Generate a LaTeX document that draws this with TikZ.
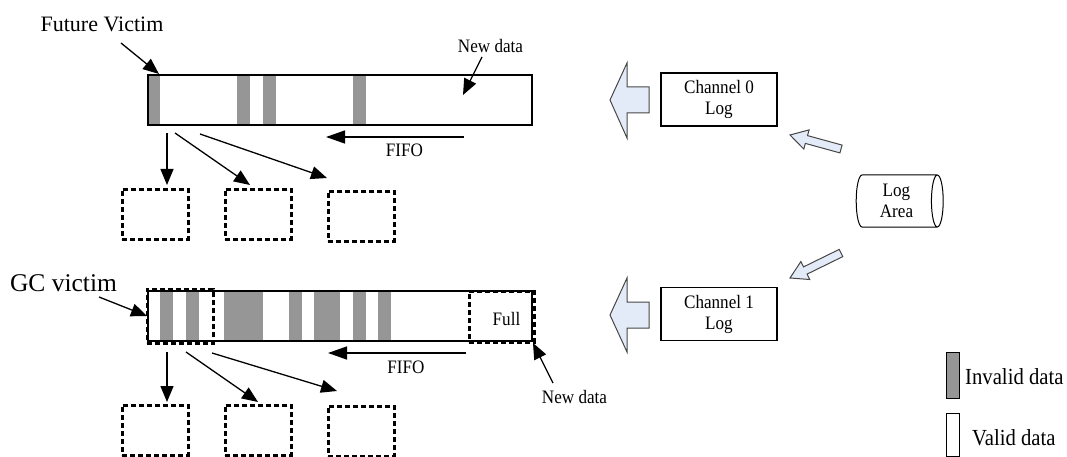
\documentclass[tikz,border=0pt]{standalone}
\usepackage{fontspec}
\setmainfont{Liberation Serif}
\newfontfamily\narrowserif[FakeStretch=0.9]{Liberation Serif}
\usetikzlibrary{arrows.meta,shapes.geometric}
\definecolor{invalidgray}{RGB}{150,150,150}
\definecolor{blockfill}{RGB}{228,235,248}
\definecolor{blockline}{RGB}{70,70,70}

\begin{document}
\begin{tikzpicture}[x=1pt,y=-1pt,
  lbl/.style={inner sep=0pt, font=\narrowserif\fontsize{19}{21}\selectfont},
  leglbl/.style={inner sep=0pt, font=\narrowserif\fontsize{23}{25}\selectfont},
  biglbl/.style={inner sep=0pt, font=\fontsize{22}{24}\selectfont},
  queue/.style={draw, line width=1.8, minimum width=384, minimum height=50, inner sep=0pt, anchor=north west},
  stripe/.style={fill=invalidgray},
  slot/.style={draw, line width=2.9, dash pattern=on 5pt off 3pt, minimum width=66, minimum height=50, inner sep=0pt, anchor=north west},
  ptr/.style={line width=1.3, -{Triangle[length=16pt,width=13pt]}},
  fifo/.style={line width=1.4, -{Triangle[length=19pt,width=13pt]}},
  chbox/.style={draw, line width=1.3, minimum width=116, minimum height=53, align=center, lbl},
  block/.style={draw=blockline, fill=blockfill, line width=1, line join=miter},
  legbox/.style={draw, line width=1.3, minimum width=13, inner sep=0pt, anchor=north west}
]
\useasboundingbox (0,0) rectangle (1067,457);

% ---------- channel 0 queue ----------
\fill[stripe] (147,74) rectangle (160,124);
\fill[stripe] (237,74) rectangle (250,124);
\fill[stripe] (263,74) rectangle (276,124);
\fill[stripe] (353,74) rectangle (366,124);
\node[queue] (bar0) at (147,74) {};

\node[biglbl, anchor=base] (fv) at (102,32) {Future Victim};
\coordinate (fvtail) at (121,43);
\coordinate (fvtip) at (159,74);
\draw[ptr] (fvtail) -- (fvtip);

\node[lbl, anchor=base] (nd0) at (490.5,53) {New data};
\coordinate (nd0tail) at (482,57);
\coordinate (nd0tip) at (463,95);
\draw[ptr] (nd0tail) -- (nd0tip);

\coordinate (fifo0start) at (464,137);
\coordinate (fifo0end) at (326,137);
\draw[fifo] (fifo0start) -- (fifo0end);
\node[lbl, anchor=base] (fifo0) at (404.5,157) {FIFO};

\node[slot] (s01) at (121,188) {};
\node[slot] (s02) at (224,188) {};
\node[slot] (s03) at (327,190) {};
\coordinate (d01a) at (167,133);
\coordinate (d01b) at (167,185);
\coordinate (d02a) at (175,133);
\coordinate (d02b) at (250,185);
\coordinate (d03a) at (200,134);
\coordinate (d03b) at (327,178);
\draw[ptr] (d01a) -- (d01b);
\draw[ptr] (d02a) -- (d02b);
\draw[ptr] (d03a) -- (d03b);

% ---------- channel 1 queue ----------
\fill[stripe] (160,290) rectangle (173,340);
\fill[stripe] (186,290) rectangle (199,340);
\fill[stripe] (224,290) rectangle (263,340);
\fill[stripe] (289,290) rectangle (302,340);
\fill[stripe] (314,290) rectangle (340,340);
\fill[stripe] (353,290) rectangle (366,340);
\fill[stripe] (378,290) rectangle (391,340);
\node[queue] (bar1) at (147,290) {};
\node[slot, minimum width=66, minimum height=54] (gcbox) at (146,288) {};
\node[slot, minimum width=65, minimum height=51] (fullbox) at (468,290) {};
\node[lbl, anchor=base] (full) at (506.5,325) {Full};

\node[inner sep=0pt, font=\fontsize{25.5}{27}\selectfont, anchor=base] (gcv) at (63.5,291) {GC victim};
\coordinate (gctail) at (99,297);
\coordinate (gctip) at (147,316);
\draw[ptr] (gctail) -- (gctip);

\node[lbl, anchor=base] (nd1) at (574.5,403) {New data};
\coordinate (nd1tail) at (553,383);
\coordinate (nd1tip) at (533,343);
\draw[ptr] (nd1tail) -- (nd1tip);

\coordinate (fifo1start) at (466,353);
\coordinate (fifo1end) at (328,353);
\draw[fifo] (fifo1start) -- (fifo1end);
\node[lbl, anchor=base] (fifo1) at (406,373) {FIFO};

\node[slot] (s11) at (121,404) {};
\node[slot] (s12) at (224,404) {};
\node[slot] (s13) at (327,405) {};
\coordinate (d11a) at (167,352);
\coordinate (d11b) at (167,402);
\coordinate (d12a) at (186,352);
\coordinate (d12b) at (258,402);
\coordinate (d13a) at (212,353);
\coordinate (d13b) at (337,391);
\draw[ptr] (d11a) -- (d11b);
\draw[ptr] (d12a) -- (d12b);
\draw[ptr] (d13a) -- (d13b);

% ---------- logs ----------
\node[chbox] (ch0) at (719,99.5) {Channel 0\\Log};
\node[chbox] (ch1) at (719,314) {Channel 1\\Log};
\node[cylinder, draw, line width=1, minimum width=52, minimum height=87, aspect=0.35,
      inner sep=0pt, align=center, lbl] (logarea) at (896.5,201) {Log\\Area};

% block arrows: channel log -> queue
\draw[block] (610,100) -- (627,63) -- (627,87) -- (649,87) -- (649,113)
             -- (627,113) -- (627,138) -- cycle;
\draw[block] (610,315) -- (627,278) -- (627,302) -- (649,302) -- (649,328)
             -- (627,328) -- (627,352) -- cycle;

% block arrows: log area -> channel logs
\draw[block] (842.1,145.1) -- (807.5,135.6) -- (809.1,129.9) -- (790,135)
             -- (803.8,149.1) -- (805.3,143.4) -- (839.9,152.9) -- cycle;
\draw[block] (842.8,256.6) -- (807.1,274.1) -- (809.7,279.5) -- (790,278)
             -- (800.9,261.5) -- (803.5,266.9) -- (839.2,249.4) -- cycle;

% ---------- legend ----------
\node[legbox, fill=invalidgray, minimum height=46] (leginv) at (946,352) {};
\node[leglbl, anchor=base west] (leginvtxt) at (965,384) {Invalid data};
\node[legbox, minimum height=43] (legval) at (946,413) {};
\node[leglbl, anchor=base west] (legvaltxt) at (972,445) {Valid data};
\end{tikzpicture}
\end{document}
